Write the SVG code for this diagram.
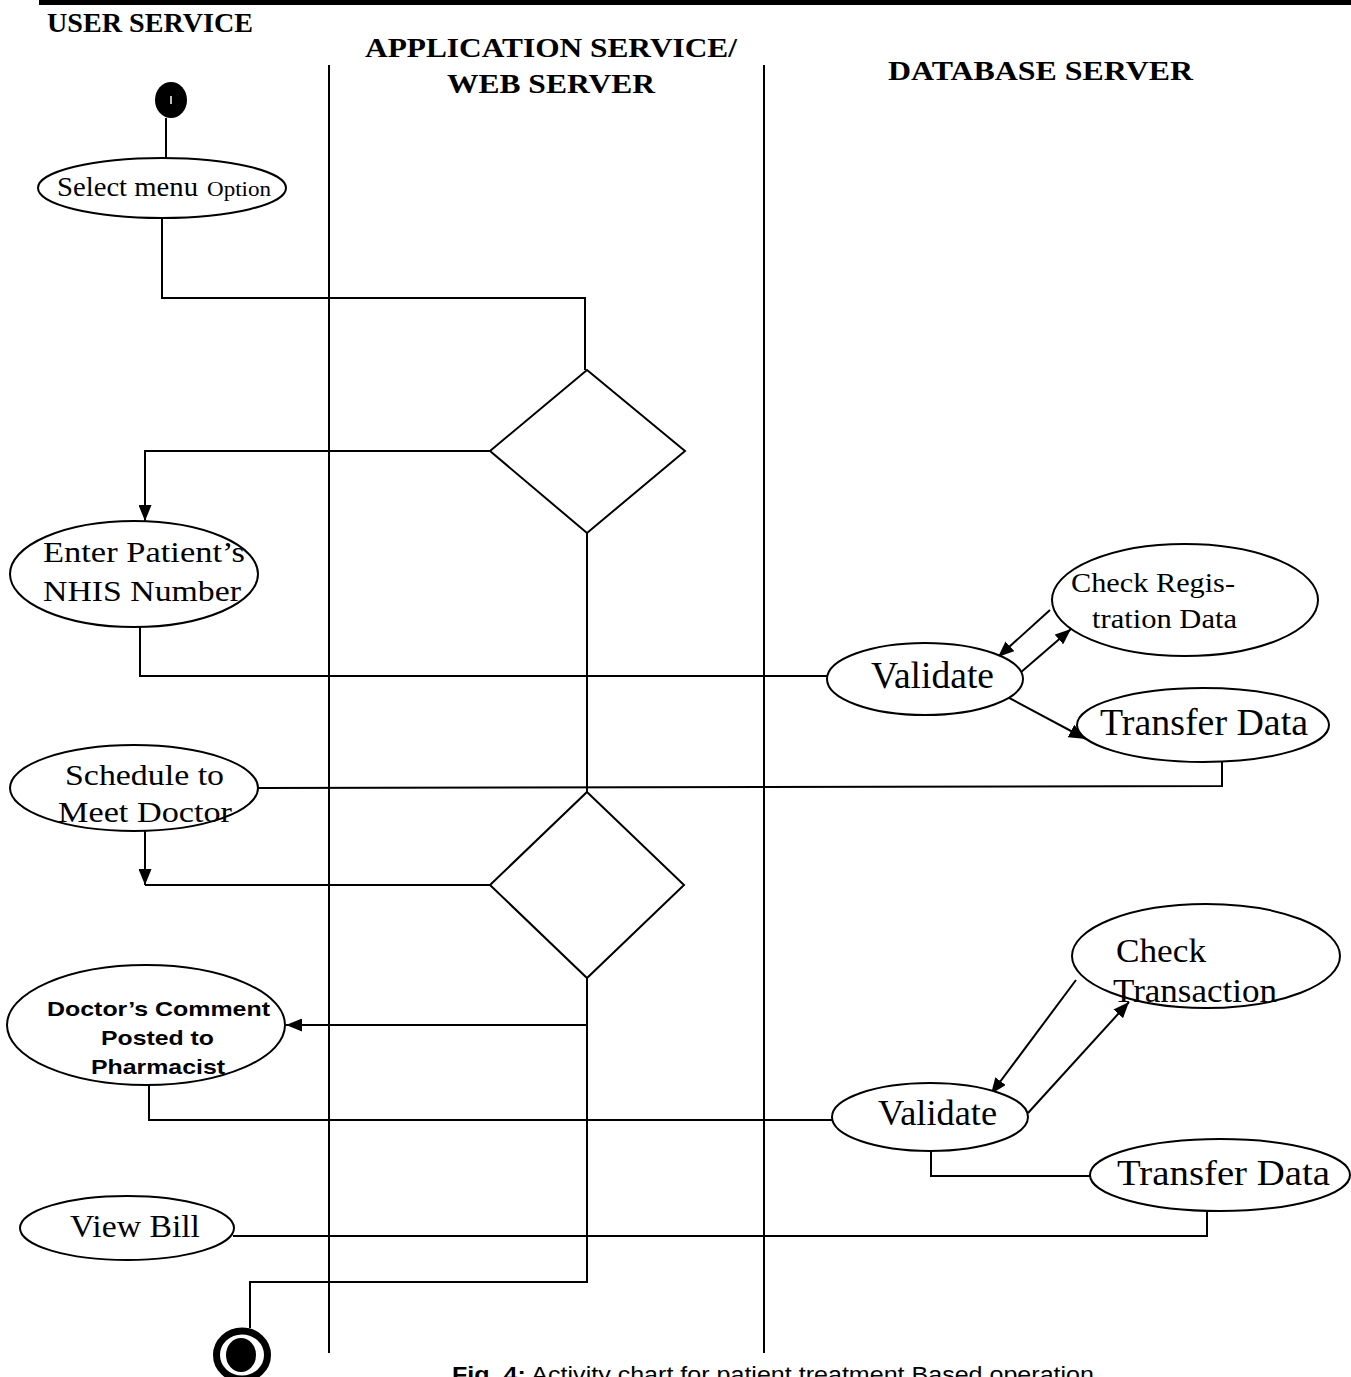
<svg xmlns="http://www.w3.org/2000/svg" width="1351" height="1377" viewBox="0 0 1351 1377">
<style>
.ln{stroke:#000;stroke-width:2;fill:none}
.nd{stroke:#000;stroke-width:2;fill:#fff}
.hd{font-family:"Liberation Serif",serif;font-weight:bold;font-size:28px;fill:#000}
.tx{font-family:"Liberation Serif",serif;fill:#000}
.sb{font-family:"Liberation Sans",Arial,sans-serif;font-weight:bold;font-size:21px;fill:#000}
</style>
<defs>
<marker id="ah" viewBox="0 0 10 10" refX="10" refY="5" markerWidth="16" markerHeight="13" markerUnits="userSpaceOnUse" orient="auto" preserveAspectRatio="none">
<path d="M0,0 L10,5 L0,10 z" fill="#000"/>
</marker>
<marker id="ahb" viewBox="0 0 10 10" refX="10" refY="5" markerWidth="17" markerHeight="14" markerUnits="userSpaceOnUse" orient="auto" preserveAspectRatio="none">
<path d="M0,0 L10,5 L0,10 z" fill="#000"/>
</marker>
</defs>
<rect width="1351" height="1377" fill="#fff"/>
<rect x="39" y="0" width="1312" height="5" fill="#000"/>
<g id="headers">
<text class="hd" x="47" y="32" textLength="206" lengthAdjust="spacingAndGlyphs">USER SERVICE</text>
<text class="hd" x="365" y="57" textLength="372" lengthAdjust="spacingAndGlyphs">APPLICATION SERVICE/</text>
<text class="hd" x="447" y="93" textLength="208" lengthAdjust="spacingAndGlyphs">WEB SERVER</text>
<text class="hd" x="888" y="80" textLength="305" lengthAdjust="spacingAndGlyphs">DATABASE SERVER</text>
</g>
<g id="lanes">
<line class="ln" x1="329" y1="65" x2="329" y2="1353" stroke-width="1.5"/>
<line class="ln" x1="764" y1="65" x2="764" y2="1353" stroke-width="1.5"/>
</g>
<g id="connectors">
<polyline class="ln" points="166,118 166,158"/>
<polyline class="ln" points="162,218 162,298 585,298 585,370"/>
<polyline class="ln" points="490,451 145,451 145,521" marker-end="url(#ah)"/>
<line class="ln" x1="587" y1="533" x2="587" y2="792"/>
<polyline class="ln" points="140,627 140,676 827,676"/>
<line class="ln" x1="1050" y1="610" x2="998" y2="657" marker-end="url(#ah)"/>
<line class="ln" x1="1020" y1="673" x2="1071" y2="629" marker-end="url(#ah)"/>
<line class="ln" x1="1000" y1="693" x2="1086" y2="739" stroke-width="2.5" marker-end="url(#ahb)"/>
<polyline class="ln" points="1222,762 1222,786 258,788"/>
<line class="ln" x1="145" y1="830" x2="145" y2="885" marker-end="url(#ah)"/>
<line class="ln" x1="145" y1="885" x2="490" y2="885"/>
<polyline class="ln" points="587,978 587,1282 250,1282 250,1328"/>
<line class="ln" x1="587" y1="1025" x2="286" y2="1025" marker-end="url(#ah)"/>
<polyline class="ln" points="149,1085 149,1120 832,1120"/>
<line class="ln" x1="1076" y1="980" x2="991" y2="1094" marker-end="url(#ah)"/>
<line class="ln" x1="1028" y1="1113" x2="1129" y2="1002" marker-end="url(#ah)"/>
<polyline class="ln" points="931,1150 931,1176 1090,1176"/>
<polyline class="ln" points="1207,1210 1207,1236 233,1236"/>
</g>
<g id="start">
<ellipse cx="171" cy="100" rx="16" ry="18" fill="#000"/>
<line x1="171" y1="96" x2="171" y2="104" stroke="#fff" stroke-width="1.5"/>
</g>
<g id="select-menu">
<ellipse class="nd" cx="162" cy="188" rx="124" ry="30"/>
<text class="tx" x="57" y="196" font-size="27" textLength="141" lengthAdjust="spacingAndGlyphs">Select menu</text>
<text class="tx" x="207" y="196" font-size="20" textLength="64" lengthAdjust="spacingAndGlyphs">Option</text>
</g>
<g id="decision1">
<polygon class="nd" points="587,370 685,451 587,533 490,451"/>
</g>
<g id="enter-nhis">
<ellipse class="nd" cx="134" cy="574" rx="124" ry="53"/>
<text class="tx" x="43" y="562" font-size="29" textLength="202" lengthAdjust="spacingAndGlyphs">Enter Patient’s</text>
<text class="tx" x="43" y="601" font-size="29" textLength="198" lengthAdjust="spacingAndGlyphs">NHIS Number</text>
</g>
<g id="check-registration">
<ellipse class="nd" cx="1185" cy="600" rx="133" ry="56"/>
<text class="tx" x="1071" y="592" font-size="28" textLength="164" lengthAdjust="spacingAndGlyphs">Check Regis-</text>
<text class="tx" x="1092" y="628" font-size="28" textLength="145" lengthAdjust="spacingAndGlyphs">tration Data</text>
</g>
<g id="validate1">
<ellipse class="nd" cx="925" cy="679" rx="98" ry="36"/>
<text class="tx" x="871" y="688" font-size="38" textLength="123" lengthAdjust="spacingAndGlyphs">Validate</text>
</g>
<g id="transfer1">
<ellipse class="nd" cx="1203" cy="725" rx="126" ry="37"/>
<text class="tx" x="1100" y="735" font-size="38" textLength="208" lengthAdjust="spacingAndGlyphs">Transfer Data</text>
</g>
<g id="schedule">
<ellipse class="nd" cx="134" cy="788" rx="124" ry="43"/>
<text class="tx" x="65" y="785" font-size="29" textLength="159" lengthAdjust="spacingAndGlyphs">Schedule to</text>
<text class="tx" x="58" y="822" font-size="29" textLength="174" lengthAdjust="spacingAndGlyphs">Meet Doctor</text>
</g>
<g id="decision2">
<polygon class="nd" points="587,792 684,885 587,978 490,885"/>
</g>
<g id="doctor-comment">
<ellipse class="nd" cx="146" cy="1025" rx="139" ry="60"/>
<text class="sb" x="47" y="1016" textLength="223" lengthAdjust="spacingAndGlyphs">Doctor’s Comment</text>
<text class="sb" x="101" y="1045" textLength="113" lengthAdjust="spacingAndGlyphs">Posted to</text>
<text class="sb" x="91" y="1074" textLength="134" lengthAdjust="spacingAndGlyphs">Pharmacist</text>
</g>
<g id="check-transaction">
<ellipse class="nd" cx="1206" cy="956" rx="134" ry="52"/>
<text class="tx" x="1116" y="962" font-size="33" textLength="90" lengthAdjust="spacingAndGlyphs">Check</text>
<text class="tx" x="1113" y="1002" font-size="33" textLength="164" lengthAdjust="spacingAndGlyphs">Transaction</text>
</g>
<g id="validate2">
<ellipse class="nd" cx="930" cy="1117" rx="98" ry="34"/>
<text class="tx" x="878" y="1125" font-size="36" textLength="119" lengthAdjust="spacingAndGlyphs">Validate</text>
</g>
<g id="transfer2">
<ellipse class="nd" cx="1220" cy="1175" rx="130" ry="36"/>
<text class="tx" x="1117" y="1185" font-size="36" textLength="213" lengthAdjust="spacingAndGlyphs">Transfer Data</text>
</g>
<g id="view-bill">
<ellipse class="nd" cx="127" cy="1228" rx="107" ry="32"/>
<text class="tx" x="70" y="1237" font-size="31" textLength="130" lengthAdjust="spacingAndGlyphs">View Bill</text>
</g>
<g id="end">
<ellipse cx="242" cy="1355" rx="25.5" ry="24" fill="none" stroke="#000" stroke-width="7"/>
<ellipse cx="241" cy="1355" rx="15" ry="17" fill="#000"/>
</g>
<g id="caption">
<text x="452" y="1382" font-family="Liberation Sans,Arial,sans-serif" font-size="22" fill="#000" textLength="642" lengthAdjust="spacingAndGlyphs"><tspan font-weight="bold">Fig. 4:</tspan> Activity chart for patient treatment Based operation</text>
</g>
</svg>
